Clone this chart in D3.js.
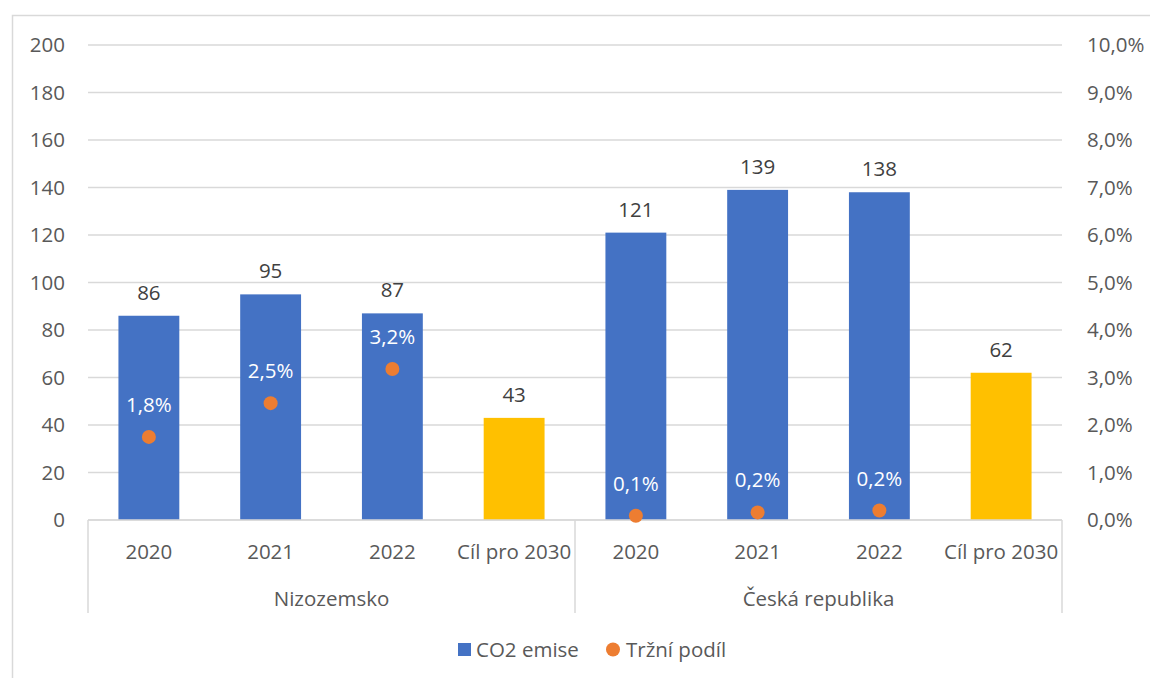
<!DOCTYPE html>
<html>
<head>
<meta charset="utf-8">
<script src="https://cdn.jsdelivr.net/npm/d3@7"></script>
<style>
  body { margin: 0; background: #fff; }
  text { font-family: "Open Sans", sans-serif; }
</style>
</head>
<body>
<svg id="chart" width="1150" height="678"></svg>
<script>
// data
var groups = ['Nizozemsko', 'Česká republika'];
var periods = ['2020', '2021', '2022', 'Cíl pro 2030'];
var emissions = [86, 95, 87, 43, 121, 139, 138, 62];
var shares = [1.75, 2.46, 3.18, null, 0.09, 0.16, 0.2, null];   // percent, null = no point
var leftTicks = [0, 20, 40, 60, 80, 100, 120, 140, 160, 180, 200];
var rightTicks = [0, 1, 2, 3, 4, 5, 6, 7, 8, 9, 10];

var rows = [];
groups.forEach((g, gi) => {
  periods.forEach((p, pi) => {
    var i = gi * periods.length + pi;
    rows.push({key: g + '|' + p, group: g, period: p, value: emissions[i], share: shares[i], target: pi == 3});
  });
});

var svg = d3.select('#chart');
// plot box (note: "top" is taken by window.top)
var pLeft = 88, pRight = 1062, pTop = 45, pBottom = 520;
var fs = '20.5px';

// outer frame (runs off the page right & bottom)
svg.append('rect')
  .attr('x', 12.5).attr('y', 15.5)
  .attr('width', 1200).attr('height', 700)
  .style('fill', 'none').style('stroke', '#d9d9d9').style('stroke-width', 1.5);

var x = d3.scaleBand().domain(rows.map(d => d.key)).range([pLeft, pRight]).paddingInner(0.5).paddingOuter(0.25);
var xb = d3.scaleBand().domain(rows.map(d => d.key)).range([pLeft, pRight]);
var y = d3.scaleLinear().domain([0, 200]).range([pBottom, pTop]);
var y2 = d3.scaleLinear().domain([0, 10]).range([pBottom, pTop]);

// gridlines
svg.append('g')
  .selectAll('line')
  .data(leftTicks)
  .enter()
  .append('line')
  .attr('x1', pLeft).attr('x2', pRight)
  .attr('y1', d => y(d)).attr('y2', d => y(d))
  .style('stroke', '#d9d9d9').style('stroke-width', 1.5);

// left axis
var yAxis = svg.append('g')
  .attr('transform', 'translate(65,0)')
  .call(d3.axisLeft(y).tickValues(leftTicks).tickSize(0).tickPadding(0));
yAxis.select('.domain').remove();
yAxis.selectAll('text').style('font-size', fs).style('fill', '#595959').style('font-family', '"Open Sans", sans-serif');

// right axis
var fmtPct = (v, n) => v.toFixed(n).replace('.', ',') + '%';
var y2Axis = svg.append('g')
  .attr('transform', 'translate(1087,0)')
  .call(d3.axisRight(y2).tickValues(rightTicks).tickSize(0).tickPadding(0).tickFormat(d => fmtPct(d, 1)));
y2Axis.select('.domain').remove();
y2Axis.selectAll('text').style('font-size', fs).style('fill', '#595959').style('font-family', '"Open Sans", sans-serif');

// bars
svg.append('g')
  .selectAll('rect')
  .data(rows)
  .enter()
  .append('rect')
  .attr('x', d => x(d.key))
  .attr('width', x.bandwidth())
  .attr('y', d => y(d.value))
  .attr('height', d => pBottom - y(d.value))
  .style('fill', d => d.target ? '#FFC000' : '#4472C4');

// bar value labels
svg.append('g')
  .selectAll('text')
  .data(rows)
  .enter()
  .append('text')
  .attr('x', d => x(d.key) + x.bandwidth() / 2)
  .attr('y', d => y(d.value) - 16)
  .attr('text-anchor', 'middle')
  .style('font-size', fs)
  .style('fill', '#404040')
  .text(d => d.value);

// category axis line + separators
svg.append('line')
  .attr('x1', pLeft).attr('x2', pRight).attr('y1', pBottom).attr('y2', pBottom)
  .style('stroke', '#d9d9d9').style('stroke-width', 1.5);
var seps = [pLeft, xb(rows[4].key), pRight];
svg.append('g')
  .selectAll('line')
  .data(seps)
  .enter()
  .append('line')
  .attr('x1', d => d).attr('x2', d => d)
  .attr('y1', pBottom).attr('y2', 613)
  .style('stroke', '#d9d9d9').style('stroke-width', 1.5);

svg.append('g')
  .selectAll('text')
  .data(rows)
  .enter()
  .append('text')
  .attr('x', d => xb(d.key) + xb.bandwidth() / 2)
  .attr('y', 559)
  .attr('text-anchor', 'middle')
  .style('font-size', fs)
  .style('fill', '#595959')
  .text(d => d.period);

svg.append('g')
  .selectAll('text')
  .data(groups)
  .enter()
  .append('text')
  .attr('x', (g, i) => (seps[i] + seps[i + 1]) / 2)
  .attr('y', 606)
  .attr('text-anchor', 'middle')
  .style('font-size', fs)
  .style('fill', '#595959')
  .text(d => d);

// market share points
var pts = rows.filter(d => d.share != null);
svg.append('g')
  .selectAll('circle')
  .data(pts)
  .enter()
  .append('circle')
  .attr('cx', d => x(d.key) + x.bandwidth() / 2)
  .attr('cy', d => y2(d.share))
  .attr('r', 7)
  .style('fill', '#ED7D31');

svg.append('g')
  .selectAll('text')
  .data(pts)
  .enter()
  .append('text')
  .attr('x', d => x(d.key) + x.bandwidth() / 2)
  .attr('y', d => y2(d.share) - 25)
  .attr('text-anchor', 'middle')
  .style('font-size', fs)
  .style('fill', '#ffffff')
  .text(d => fmtPct(d.share, 1));

// legend
var lg = svg.append('g');
lg.append('rect').attr('x', 458).attr('y', 643).attr('width', 13).attr('height', 13).style('fill', '#4472C4');
lg.append('text').attr('x', 476).attr('y', 657).style('font-size', fs).style('fill', '#595959').text('CO2 emise');
lg.append('circle').attr('cx', 613).attr('cy', 649.5).attr('r', 7).style('fill', '#ED7D31');
lg.append('text').attr('x', 626).attr('y', 657).style('font-size', fs).style('fill', '#595959').text('Tržní podíl');
</script>
</body>
</html>
